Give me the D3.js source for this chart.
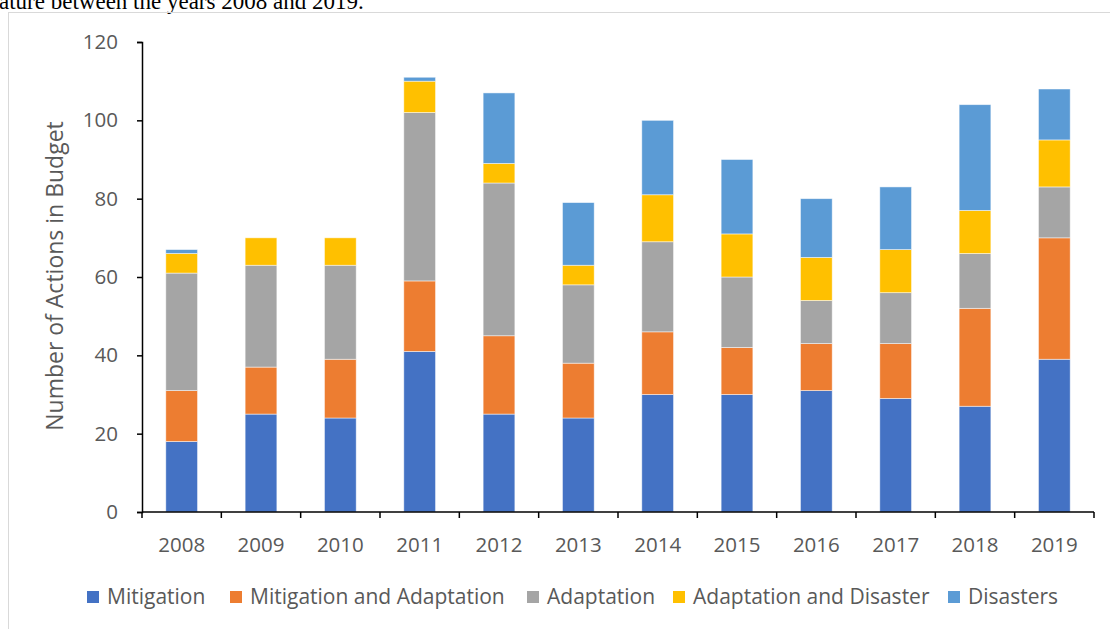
<!doctype html>
<html>
<head>
<meta charset="UTF-8" />
<script src="https://d3js.org/d3.v7.min.js"></script>
<style>
  body { margin: 0; background: #fff; overflow: hidden; }
  svg { display: block; }
</style>
</head>
<body>
<svg id="chart" width="1110" height="629"></svg>
<script>
(function () {
  "use strict";

  const years = ["2008", "2009", "2010", "2011", "2012", "2013", "2014", "2015", "2016", "2017", "2018", "2019"];
  const seriesNames = ["Mitigation", "Mitigation and Adaptation", "Adaptation", "Adaptation and Disaster", "Disasters"];
  const mitigation = [18, 25, 24, 41, 25, 24, 30, 30, 31, 29, 27, 39];
  const mitigationAdaptation = [13, 12, 15, 18, 20, 14, 16, 12, 12, 14, 25, 31];
  const adaptation = [30, 26, 24, 43, 39, 20, 23, 18, 11, 13, 14, 13];
  const adaptationDisaster = [5, 7, 7, 8, 5, 5, 12, 11, 11, 11, 11, 12];
  const disasters = [1, 0, 0, 1, 18, 16, 19, 19, 15, 16, 27, 13];
  const yTicks = [0, 20, 40, 60, 80, 100, 120];
  const colors = ["#4472C4", "#ED7D31", "#A5A5A5", "#FFC000", "#5B9BD5"];

  const svg = d3.select("#chart");
  const font = "'Open Sans', 'Liberation Sans', sans-serif";

  // caption line cut off at the top of the screenshot
  svg.append("text")
    .attr("x", -1).attr("y", 9)
    .style("font-family", "'Liberation Serif', 'DejaVu Serif', serif")
    .style("font-size", "23px")
    .attr("fill", "#000")
    .text("ature between the years 2008 and 2019.");

  // chart frame
  svg.append("rect")
    .attr("x", 8.5).attr("y", 12.5)
    .attr("width", 1120).attr("height", 640)
    .attr("fill", "none").attr("stroke", "#d9d9d9");

  const rows = years.map(function (y, i) {
    return { year: y, s0: mitigation[i], s1: mitigationAdaptation[i], s2: adaptation[i], s3: adaptationDisaster[i], s4: disasters[i] };
  });
  const stack = d3.stack().keys(["s0", "s1", "s2", "s3", "s4"])(rows);

  const x = d3.scaleBand().domain(years).range([142, 1094]).paddingInner(0.6).paddingOuter(0.3);
  const y = d3.scaleLinear().domain([0, 120]).range([512, 42]);

  svg.append("g")
    .selectAll("g")
    .data(stack)
    .join("g")
    .attr("fill", function (d, i) { return colors[i]; })
    .selectAll("rect")
    .data(function (d) { return d; })
    .join("rect")
    .attr("x", function (d) { return x(d.data.year); })
    .attr("width", x.bandwidth())
    .attr("y", function (d) { return y(d[1]); })
    .attr("height", function (d) { return y(d[0]) - y(d[1]); })
    .attr("stroke", "#ffffff")
    .attr("stroke-opacity", 0.6)
    .attr("stroke-width", 0.8);

  // y axis
  const yAxis = svg.append("g")
    .attr("transform", "translate(142,0)")
    .call(d3.axisLeft(y).tickValues(yTicks).tickSize(5).tickPadding(19));
  yAxis.select(".domain").attr("stroke", "#000").attr("stroke-width", 1.5);
  yAxis.selectAll(".tick line").attr("stroke", "#000").attr("stroke-width", 1.5);
  yAxis.selectAll("text")
    .style("font-family", font).style("font-size", "20.5px").attr("fill", "#595959");

  // x axis with ticks between categories
  const x0 = 142, x1 = 1094;
  const xAxis = svg.append("g").attr("transform", "translate(0,512)");
  xAxis.append("line")
    .attr("x1", x0).attr("x2", x1)
    .attr("stroke", "#000").attr("stroke-width", 1.5);
  xAxis.selectAll("line.sep")
    .data(d3.range(years.length + 1))
    .join("line")
    .attr("class", "sep")
    .attr("x1", function (i) { return x0 + i * (x1 - x0) / years.length; })
    .attr("x2", function (i) { return x0 + i * (x1 - x0) / years.length; })
    .attr("y1", 0).attr("y2", 6)
    .attr("stroke", "#000").attr("stroke-width", 1.5);
  xAxis.selectAll("text")
    .data(years)
    .join("text")
    .attr("x", function (d) { return x(d) + x.bandwidth() / 2; })
    .attr("y", 40)
    .attr("text-anchor", "middle")
    .style("font-family", font).style("font-size", "20.5px").attr("fill", "#595959")
    .text(function (d) { return d; });

  // y axis title
  svg.append("text")
    .attr("transform", "translate(63,276) rotate(-90)")
    .attr("text-anchor", "middle")
    .style("font-family", font).style("font-size", "23px").attr("fill", "#595959")
    .text("Number of Actions in Budget");

  // legend
  const legendTextX = [107, 250, 547, 693, 968];
  const legend = svg.append("g").selectAll("g")
    .data(seriesNames)
    .join("g")
    .attr("transform", function (d, i) { return "translate(" + legendTextX[i] + ",604)"; });
  legend.append("rect")
    .attr("x", -20).attr("y", -13).attr("width", 12).attr("height", 12)
    .attr("fill", function (d, i) { return colors[i]; });
  legend.append("text")
    .attr("x", 0).attr("y", 0)
    .style("font-family", font).style("font-size", "21px").attr("fill", "#595959")
    .text(function (d) { return d; });
})();
</script>
</body>
</html>
